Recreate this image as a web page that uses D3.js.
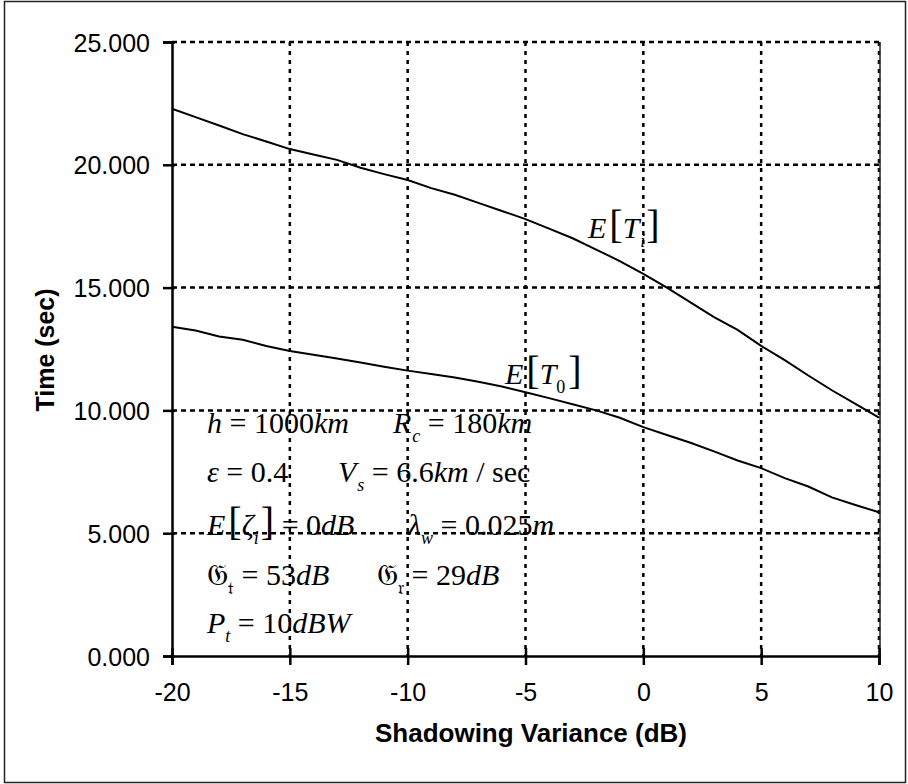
<!DOCTYPE html>
<html>
<head>
<meta charset="utf-8">
<script src="https://cdn.jsdelivr.net/npm/d3@7"></script>
<style>
body { margin: 0; background: #fff; }
svg text { white-space: pre; }
</style>
</head>
<body>
<main></main>
<script>
// values
const shadowing = [-20,-19,-18,-17,-16,-15,-14,-13,-12,-11,-10,-9,-8,-7,-6,-5,-4,-3,-2,-1,0,1,2,3,4,5,6,7,8,9,10];
const expTi = [22.28,21.94,21.6,21.25,20.95,20.64,20.42,20.2,19.88,19.62,19.38,19.05,18.78,18.45,18.12,17.79,17.4,17.01,16.55,16.08,15.56,15.0,14.4,13.8,13.28,12.63,12.05,11.42,10.82,10.27,9.71];
const expT0 = [13.41,13.25,13.01,12.88,12.62,12.42,12.27,12.11,11.95,11.78,11.62,11.48,11.34,11.17,10.97,10.74,10.5,10.25,10.0,9.7,9.32,9.0,8.68,8.33,7.96,7.65,7.24,6.9,6.46,6.15,5.85];
const xTicks = [-20,-15,-10,-5,0,5,10];
const yTicks = [0,5,10,15,20,25];
const xTitle = "Shadowing Variance (dB)";
const yTitle = "Time (sec)";

const w = 908, h = 784,
	margin = {top: 42, right: 29, bottom: 128, left: 172},
	serif = "'Liberation Serif','Times New Roman',serif",
	sans = "'Liberation Sans',Arial,sans-serif";

const svg = d3.select("main")
	.append("svg")
	.attr("width", w)
	.attr("height", h);

svg.append("rect")
	.attr("x", 4.5).attr("y", 1.5)
	.attr("width", 901).attr("height", 781)
	.attr("fill", "#fff")
	.attr("stroke", "#222")
	.attr("stroke-width", 1.5);

const xScale = d3.scaleLinear()
	.domain([-20, 10])
	.range([margin.left, w - margin.right]);
const yScale = d3.scaleLinear()
	.domain([0, 25])
	.range([h - margin.bottom, margin.top]);

// grid
svg.append("g")
	.selectAll("line")
	.data(yTicks.filter(d => d > 0))
	.enter()
	.append("line")
	.attr("x1", xScale(-20)).attr("x2", xScale(10))
	.attr("y1", d => yScale(d)).attr("y2", d => yScale(d))
	.attr("stroke", "#000")
	.attr("stroke-width", 2.5)
	.attr("stroke-dasharray", "5,4");
svg.append("g")
	.selectAll("line")
	.data(xTicks.filter(d => d > -20))
	.enter()
	.append("line")
	.attr("x1", d => xScale(d)).attr("x2", d => xScale(d))
	.attr("y1", yScale(25)).attr("y2", yScale(0))
	.attr("stroke", "#000")
	.attr("stroke-width", 2.5)
	.attr("stroke-dasharray", "4,5");

// right border
svg.append("line")
	.attr("x1", xScale(10) + 1).attr("x2", xScale(10) + 1)
	.attr("y1", yScale(25)).attr("y2", yScale(0))
	.attr("stroke", "#222")
	.attr("stroke-width", 1.5);

// axes
const xAxis = d3.axisBottom(xScale).tickValues(xTicks).tickSize(9).tickPadding(18).tickFormat(d => String(d));
const gx = svg.append("g")
	.attr("transform", "translate(0," + yScale(0) + ")")
	.call(xAxis);
gx.select(".domain").attr("stroke-width", 2.5);
gx.selectAll(".tick line").attr("y1", -8).attr("stroke-width", 2.5);
gx.selectAll("text").style("font-family", sans).style("font-size", "25px").attr("fill", "#000");

const yAxis = d3.axisLeft(yScale).tickValues(yTicks).tickSize(9).tickPadding(13).tickFormat(d3.format(".3f"));
const gy = svg.append("g")
	.attr("transform", "translate(" + xScale(-20) + ",0)")
	.call(yAxis);
gy.select(".domain").attr("stroke-width", 2.5);
gy.selectAll(".tick line").attr("x1", 3).attr("stroke-width", 2.5);
gy.selectAll("text").style("font-family", sans).style("font-size", "25px").attr("fill", "#000").attr("dy", "0.36em");

// titles
svg.append("text")
	.attr("transform", "rotate(-90)")
	.attr("x", -350)
	.attr("y", 54)
	.attr("text-anchor", "middle")
	.style("font-family", sans)
	.style("font-size", "25px")
	.style("font-weight", "bold")
	.text(yTitle);
svg.append("text")
	.attr("x", 531)
	.attr("y", 742)
	.attr("text-anchor", "middle")
	.style("font-family", sans)
	.style("font-size", "26px")
	.style("font-weight", "bold")
	.text(xTitle);

// curves
const line = d3.line()
	.x((d, i) => xScale(shadowing[i]))
	.y(d => yScale(d));
[expTi, expT0].forEach(s => {
	svg.append("path")
		.datum(s)
		.attr("d", line)
		.attr("fill", "none")
		.attr("stroke", "#000")
		.attr("stroke-width", 2);
});

// equation-style text
function mathText(x, y, parts, size) {
	const t = svg.append("text")
		.attr("x", x).attr("y", y)
		.style("font-family", serif)
		.style("font-size", size + "px")
		.attr("fill", "#000");
	let shift = 0;
	parts.forEach(p => {
		const s = t.append("tspan").text(p.t);
		if (p.i) s.style("font-style", "italic");
		const want = p.sub ? size * 0.3 : 0;
		if (p.big) s.style("font-size", p.big + "px");
		if (want - shift !== 0) s.attr("dy", want - shift);
		shift = want;
		if (p.sub) s.style("font-size", (size * 0.6) + "px");
		if (p.dx) s.attr("dx", p.dx);
	});
	return t;
}

const fs = 30;
mathText(588, 238, [{t:"E", i:1}, {t:"[", big:40, dx:3}, {t:"T", i:1}, {t:"i", i:1, sub:1, dx:1}, {t:"]", big:40, dx:1}], fs);
mathText(505, 384, [{t:"E", i:1}, {t:"[", big:40, dx:3}, {t:"T", i:1}, {t:"0", sub:1}, {t:"]", big:40, dx:3}], fs);

mathText(207, 433, [{t:"h", i:1}, {t:" = 1000"}, {t:"km", i:1}], fs);
mathText(393, 433, [{t:"R", i:1}, {t:"c", i:1, sub:1, dx:1}, {t:" = 180"}, {t:"km", i:1}], fs);
mathText(207, 482, [{t:"ε", i:1}, {t:" = 0.4"}], fs);
mathText(338, 482, [{t:"V", i:1}, {t:"s", i:1, sub:1, dx:1}, {t:" = 6.6"}, {t:"km", i:1}, {t:" / sec"}], fs);
mathText(207, 535, [{t:"E", i:1}, {t:"[", big:40, dx:3}, {t:"ζ", i:1}, {t:"i", i:1, sub:1}, {t:"]", big:40, dx:2}, {t:" = 0"}, {t:"dB", i:1}], fs);
mathText(408, 535, [{t:"λ", i:1}, {t:"w", i:1, sub:1}, {t:" = 0.025"}, {t:"m", i:1}], fs);
mathText(207, 585, [{t:"𝔊"}, {t:"𝔱", sub:1}, {t:" = 53"}, {t:"dB", i:1}], fs);
mathText(377, 585, [{t:"𝔊"}, {t:"𝔯", sub:1}, {t:" = 29"}, {t:"dB", i:1}], fs);
mathText(207, 633, [{t:"P", i:1}, {t:"t", i:1, sub:1}, {t:" = 10"}, {t:"dBW", i:1}], fs);
</script>
</body>
</html>
